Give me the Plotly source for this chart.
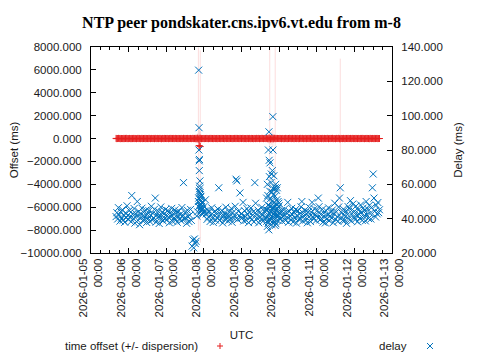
import pandas as pd
import plotly.graph_objects as go

# ---------------- data ----------------
series_start = "2026-01-05 16:00"   # first regular sample, 30-min polling

# delay (ms), one value per 30-min sample
delay_ms = [
    # Jan 5 16:00-23:30
    41.2, 43.5, 39.8, 46.4, 42.1, 38.6, 44.0, 40.3, 45.2, 39.1, 41.8, 37.9, 43.3, 40.6, 47.5, 42.0,
    # Jan 6
    39.5, 44.8, 41.0, 38.2, 53.5, 42.6, 40.1, 45.9, 37.4, 43.0, 41.5, 50.0, 39.0, 44.2, 36.5, 42.8,
    40.7, 46.1, 38.9, 43.7, 41.3, 39.6, 45.0, 37.8, 42.4, 40.0, 44.6, 38.4, 41.9, 47.2, 39.3, 43.1,
    40.5, 45.5, 52.0, 38.0, 42.2, 40.9, 44.3, 37.2, 41.6, 46.8, 39.7, 43.9, 38.7, 42.7, 40.2, 45.3,
    # Jan 7
    42.3, 39.4, 44.7, 40.8, 37.6, 43.4, 41.1, 46.0, 38.5, 42.9, 40.4, 45.1, 39.2, 43.8, 37.9, 41.7,
    44.4, 40.0, 42.5, 38.8, 46.5, 41.4, 61.0, 39.9, 43.6, 40.6, 37.3, 44.9, 41.2, 38.3, 42.0, 45.4,
    39.0, 24.0, 27.6, 23.0, 28.2, 25.5, 26.8, 41.5, 44.0, 50.0, 56.0, 47.5, 53.0, 45.0, 49.0, 43.5,
    # Jan 8
    47.0, 44.5, 51.0, 42.8, 39.6, 45.2, 41.0, 43.9, 38.4, 42.1, 46.3, 40.2, 37.8, 44.0, 41.5, 39.1,
    43.4, 40.7, 45.6, 58.0, 38.9, 42.6, 40.0, 44.8, 37.5, 41.9, 43.2, 39.4, 46.7, 40.9, 42.3, 38.6,
    44.1, 41.3, 39.8, 45.9, 37.9, 43.6, 40.4, 42.0, 47.2, 63.0, 62.0, 39.5, 44.3, 41.7, 55.0, 40.6,
    # Jan 9
    43.0, 40.5, 49.5, 38.7, 44.6, 41.2, 39.0, 45.8, 42.4, 37.7, 43.9, 40.8, 46.2, 39.3, 41.9, 44.1,
    38.2, 61.0, 49.0, 42.7, 40.3, 45.0, 37.6, 43.3, 41.0, 39.5, 46.6, 42.2, 38.8, 44.4, 40.6, 45.0,
    52.0, 60.0, 48.0, 90.6, 56.0, 44.0, 66.0, 50.0, 99.4, 54.0, 47.0, 58.0, 43.0, 51.0, 46.0, 42.0,
    # Jan 10
    47.5, 43.0, 40.2, 44.7, 38.5, 42.9, 41.3, 45.6, 39.0, 43.5, 40.8, 49.5, 37.9, 44.2, 41.6, 39.4,
    46.0, 42.3, 38.1, 43.8, 40.5, 45.3, 37.4, 41.8, 44.5, 39.7, 42.6, 40.0, 46.9, 50.0, 38.6, 43.1,
    41.4, 45.0, 39.2, 42.8, 37.6, 44.0, 40.9, 46.4, 38.3, 43.6, 49.5, 41.1, 39.8, 45.7, 42.0, 38.9,
    # Jan 11
    41.7, 44.9, 52.0, 47.0, 39.3, 42.5, 40.1, 45.4, 38.0, 43.2, 41.0, 37.5, 44.6, 39.9, 42.1, 46.3,
    38.8, 41.5, 43.7, 40.4, 45.1, 37.7, 42.9, 49.0, 39.6, 44.0, 41.2, 38.4, 46.8, 52.0, 58.0, 40.7,
    43.4, 38.9, 45.5, 41.9, 39.1, 44.3, 37.3, 42.4, 47.0, 40.0, 45.8, 50.5, 38.6, 43.0, 48.5, 41.1,
    # Jan 12 00:00-16:00
    44.2, 39.5, 47.3, 41.8, 38.2, 45.0, 42.6, 40.3, 48.0, 43.7, 39.0, 46.1, 41.4, 44.8, 38.7, 50.0,
    42.2, 45.6, 40.1, 47.7, 43.0, 39.8, 46.5, 58.0, 66.0, 52.0, 44.4, 41.0, 47.9, 42.8, 49.4, 43.5,
    45.2,
]

# time offset (ms), same 30-min samples
offset_ms = [
    12, -8, 5, 18, -3, 9, -14, 6, 2, -11, 15, -5, 7, 20, -9, 3,
    -6, 11, 4, -15, 8, -2, 13, -7, 10, 1, -12, 6, 16, -4, 9, -10,
    3, 14, -8, 5, -1, 12, -13, 7, 0, -6, 17, 2, -9, 10, 4, -3,
    8, -11, 15, 1, -5, 11, -7, 6, 13, -2, -14, 9, 3, -8, 12, 5,
    -4, 10, 7, -12, 2, 15, -6, 8, -1, 11, -9, 4, 14, -3, 6, -13,
    9, 1, -7, 12, 5, -10, 16, -2, 8, -5, 3, 13, -11, 7, 0, 10,
    -8, 4, 18, -6, 11, -15, 25, -20, 30, -35, 22, -18, 14, -9, 6, -3,
    10, -7, 5, 13, -4, 8, -12, 2, 15, -6, 9, 1, -10, 12, 4, -3,
    7, -14, 11, 0, 6, -8, 14, -1, 9, 3, -11, 7, 16, -5, 2, 10,
    -9, 13, 5, -2, 8, -13, 4, 11, -6, 17, -4, 9, 1, -10, 12, 6,
    -3, 8, 14, -9, 5, 2, -12, 10, 7, -5, 13, 0, -8, 11, 4, -14,
    9, 3, -6, 15, -2, 7, 12, -10, 5, -1, 16, 8, -7, 3, 11, -4,
    20, -15, 28, -22, 35, -30, 18, -25, 40, -18, 24, -12, 15, -8, 9, 4,
    -6, 12, 3, -9, 10, 6, -13, 1, 14, -4, 8, -11, 5, 17, -2, 9,
    -7, 11, 2, -15, 13, 4, -5, 10, 7, -12, 0, 15, -3, 8, 11, -8,
    6, -1, 14, -10, 3, 12, -6, 9, 16, -4, 1, -13, 10, 5, -9, 7,
    13, -2, 6, -11, 9, 4, -7, 15, 0, -10, 12, 3, -5, 8, 14, -12,
    2, 10, -4, 7, 16, -9, 5, 1, -13, 11, 6, -3, 18, -8, -20, 9,
    4, -6, 12, 2, -14, 10, 7, -1, 15, -5, 3, 11, -9, 8, 13, -4,
    6, -10, 14, 2, -7, 11, 5, -13, 9, 0, 16, -3, 8, -11, 4, 12,
    -6, 10, 1, -14, 15, 7, -4, 9, 3, -9, 13, -1, 6, 11, -8, 5,
    2,
]

# dispersion (ms) of each offset sample
dispersion_ms = [
    35, 42, 28, 51, 38, 45, 33, 60, 40, 29, 55, 37, 48, 31, 44, 39,
    36, 50, 41, 27, 58, 34, 46, 39, 30, 53, 43, 37, 49, 32, 45, 40,
    28, 56, 38, 47, 33, 52, 42, 35, 48, 30, 44, 39, 57, 36, 41, 34,
    50, 29, 46, 38, 43, 31, 54, 40, 37, 49, 32, 45, 41, 35, 52, 39,
    44, 33, 51, 38, 29, 47, 42, 36, 55, 31, 45, 40, 34, 49, 37, 43,
    30, 52, 39, 46, 35, 41, 60, 32, 48, 38, 44, 36, 53, 30, 47, 42,
    39, 55, 120, 180, 240, 310, 260, 350, 420, 8000, 900, 640, 380, 210, 150, 90,
    70, 55, 48, 41, 36, 50, 43, 38, 31, 46, 40, 35, 52, 29, 44, 39,
    47, 33, 41, 58, 37, 45, 30, 49, 42, 36, 54, 32, 40, 46, 38, 43,
    35, 51, 28, 45, 39, 48, 34, 42, 56, 62, 58, 37, 44, 40, 53, 36,
    41, 47, 35, 50, 38, 43, 32, 46, 40, 29, 53, 37, 45, 34, 48, 39,
    42, 60, 51, 36, 44, 31, 49, 38, 43, 35, 47, 40, 33, 52, 39, 80,
    150, 260, 190, 420, 8300, 310, 560, 280, 700, 350, 240, 8000, 180, 130, 95, 70,
    60, 48, 42, 37, 51, 34, 46, 40, 32, 49, 43, 55, 38, 30, 45, 41,
    36, 53, 39, 47, 33, 44, 29, 50, 42, 37, 48, 35, 52, 57, 31, 45,
    40, 38, 54, 34, 47, 42, 30, 49, 43, 36, 56, 39, 45, 33, 51, 38,
    44, 37, 58, 50, 32, 46, 41, 35, 53, 39, 30, 48, 42, 36, 51, 33,
    45, 40, 29, 52, 38, 47, 34, 55, 41, 37, 49, 31, 46, 65, 7000, 43,
    39, 50, 35, 44, 30, 48, 42, 36, 53, 40, 33, 58, 38, 45, 61, 41,
    47, 36, 52, 40, 31, 49, 43, 38, 56, 34, 45, 41, 30, 50, 37, 59,
    44, 39, 53, 35, 48, 42, 33, 70, 85, 62, 46, 38, 51, 40, 57, 43,
    37,
]

# extra (burst) offset samples during the Jan 7 disturbance
burst_offset_time = ["2026-01-07 21:00", "2026-01-07 21:40"]
burst_offset_ms = [-610, -700]
burst_dispersion_ms = [250, 8400]

# extra (burst) delay samples during the two disturbances
burst_delay_time = [
    "2026-01-07 20:35", "2026-01-07 20:40", "2026-01-07 20:45", "2026-01-07 20:50",
    "2026-01-07 20:55", "2026-01-07 21:00", "2026-01-07 21:05", "2026-01-07 21:10",
    "2026-01-07 21:15", "2026-01-07 21:20", "2026-01-07 21:25", "2026-01-07 21:30",
    "2026-01-07 21:35", "2026-01-07 21:40", "2026-01-07 21:45", "2026-01-07 21:50",
    "2026-01-07 21:55", "2026-01-07 22:05", "2026-01-07 22:15", "2026-01-07 22:25",
    "2026-01-07 22:35", "2026-01-07 22:45", "2026-01-07 22:55", "2026-01-07 23:05",
    "2026-01-09 15:50", "2026-01-09 16:10", "2026-01-09 16:20", "2026-01-09 16:30",
    "2026-01-09 16:40", "2026-01-09 16:50", "2026-01-09 17:00", "2026-01-09 17:10",
    "2026-01-09 17:20", "2026-01-09 17:25", "2026-01-09 17:40", "2026-01-09 17:45",
    "2026-01-09 17:50", "2026-01-09 18:00", "2026-01-09 18:10", "2026-01-09 18:20",
    "2026-01-09 18:30", "2026-01-09 18:40", "2026-01-09 18:50", "2026-01-09 19:00",
    "2026-01-09 19:10", "2026-01-09 19:20", "2026-01-09 19:30", "2026-01-09 19:40",
    "2026-01-09 19:50", "2026-01-09 20:00", "2026-01-09 20:05", "2026-01-09 20:15",
    "2026-01-09 20:25", "2026-01-09 20:30", "2026-01-09 20:40", "2026-01-09 20:50",
    "2026-01-09 21:00", "2026-01-09 21:10", "2026-01-09 21:20", "2026-01-09 21:30",
    "2026-01-09 21:40", "2026-01-09 21:50", "2026-01-09 22:00", "2026-01-09 22:10",
    "2026-01-09 22:20", "2026-01-09 22:30", "2026-01-09 22:40", "2026-01-09 22:50",
    "2026-01-09 23:00", "2026-01-09 23:10", "2026-01-09 23:20", "2026-01-09 23:40",
    "2026-01-09 23:50",
]
burst_delay_ms = [
    47.0, 126.5, 52.0, 80.0, 93.0, 73.7, 68.0, 74.5,
    59.0, 57.5, 55.0, 62.0, 51.0, 48.5, 54.0, 46.0,
    52.5, 44.5, 50.5, 47.0, 43.0, 49.5, 45.5, 42.5,
    40.5, 38.5, 45.0, 35.5, 41.0, 53.5, 37.5, 80.0,
    47.5, 33.5, 74.0, 64.5, 39.5, 43.0, 72.5, 51.5,
    47.0, 44.5, 61.0, 36.5, 40.0, 55.5, 38.0, 68.0,
    46.5, 40.5, 80.0, 57.5, 42.5, 39.0, 65.0, 49.5,
    43.5, 38.0, 53.0, 36.0, 45.5, 60.0, 37.0, 41.5,
    56.5, 42.0, 48.0, 58.0, 41.0, 39.0, 50.0, 44.0,
    49.0,
]

title_text = "NTP peer pondskater.cns.ipv6.vt.edu from m-8"
x_range = ["2026-01-05 00:00", "2026-01-13 00:00"]
offset_range = [-10000, 8000]
delay_range = [20, 140]

assert len(offset_ms) == len(delay_ms) == len(dispersion_ms)
assert len(burst_delay_time) == len(burst_delay_ms)

# ---------------- figure ----------------
RED = "#e51e1e"
BLUE = "#0072bd"
FONT = "Liberation Sans"
FS = 11.5

regular_times = pd.date_range(series_start, periods=len(delay_ms), freq="30min")
off_x = list(regular_times) + list(pd.to_datetime(burst_offset_time))
off_y = offset_ms + burst_offset_ms
off_err = dispersion_ms + burst_dispersion_ms
del_x = list(regular_times) + list(pd.to_datetime(burst_delay_time))
del_y = delay_ms + burst_delay_ms

fig = go.Figure()
fig.add_trace(go.Scatter(
    x=off_x, y=off_y, mode="markers", name="time offset (+/- dispersion)",
    marker=dict(symbol="cross-thin", size=5, color=RED, line=dict(width=1, color=RED)),
    error_y=dict(type="data", array=off_err, color="rgba(230,30,30,0.15)", thickness=1, width=0),
    showlegend=False, yaxis="y",
))
fig.add_trace(go.Scatter(
    x=del_x, y=del_y, mode="markers", name="delay",
    marker=dict(symbol="x-thin", size=7, color=BLUE, line=dict(width=1, color=BLUE)),
    showlegend=False, yaxis="y2",
))

axis_common = dict(showline=True, linecolor="black", linewidth=1, ticks="inside",
                   tickcolor="black", showgrid=False, zeroline=False,
                   tickfont=dict(family=FONT, size=FS, color="#1a1a1a"))

# The page body has an 8px default margin, so the figure is laid out
# 8px up/left of the target page positions.
fig.update_layout(
    width=480, height=360,
    margin=dict(l=83, r=96, t=39, b=115, autoexpand=False),
    paper_bgcolor="white", plot_bgcolor="white",
    font=dict(family=FONT, size=FS, color="#1a1a1a"),
    title=dict(text="<b>" + title_text + "</b>", x=0.5, xref="paper",
               y=1 - 14 / 360, yref="container", yanchor="middle",
               font=dict(family="Liberation Serif", size=16, color="black")),
    xaxis=dict(type="date", range=x_range, dtick=86400000, tick0="2026-01-05",
               tickformat="%Y-%m-%d<br>%H:%M", tickangle=-90, ticklen=5, mirror="ticks",
               minor=dict(dtick=21600000, ticks="inside", ticklen=3, tickcolor="black"),
               title=dict(text="UTC", standoff=14, font=dict(family=FONT, size=FS)),
               **axis_common),
    yaxis=dict(range=offset_range, dtick=2000, tickformat=".3f", ticklen=5,
               ticklabelstandoff=6,
               title=dict(text="Offset (ms)", standoff=10, font=dict(family=FONT, size=FS)),
               **axis_common),
    yaxis2=dict(range=delay_range, dtick=20, tickformat=".3f", ticklen=5,
                overlaying="y", side="right", ticklabelstandoff=6,
                title=dict(text="Delay (ms)", standoff=12, font=dict(family=FONT, size=FS)),
                **axis_common),
)

# legend drawn gnuplot-style: text first, then the sample symbol
W, H = 301.0, 206.0
leg_y = (253 - 346) / H
fig.add_annotation(text="time offset (+/- dispersion)", xref="paper", yref="paper",
                   x=(200 - 91) / W, y=leg_y, xanchor="right", yanchor="middle",
                   showarrow=False, font=dict(family=FONT, size=FS, color="#1a1a1a"))
fig.add_annotation(text="delay", xref="paper", yref="paper",
                   x=(409 - 91) / W, y=leg_y, xanchor="right", yanchor="middle",
                   showarrow=False, font=dict(family=FONT, size=FS, color="#1a1a1a"))
dx, dy = 3 / W, 3 / H
px_plus, px_x = (220 - 91) / W, (430 - 91) / W
for (x0, y0, x1, y1, c) in [
    (px_plus - dx, leg_y, px_plus + dx, leg_y, RED),
    (px_plus, leg_y - dy, px_plus, leg_y + dy, RED),
    (px_x - dx, leg_y - dy, px_x + dx, leg_y + dy, BLUE),
    (px_x - dx, leg_y + dy, px_x + dx, leg_y - dy, BLUE),
]:
    fig.add_shape(type="line", xref="paper", yref="paper", x0=x0, y0=y0, x1=x1, y1=y1,
                  line=dict(color=c, width=1))

fig.write_html("out.html")
